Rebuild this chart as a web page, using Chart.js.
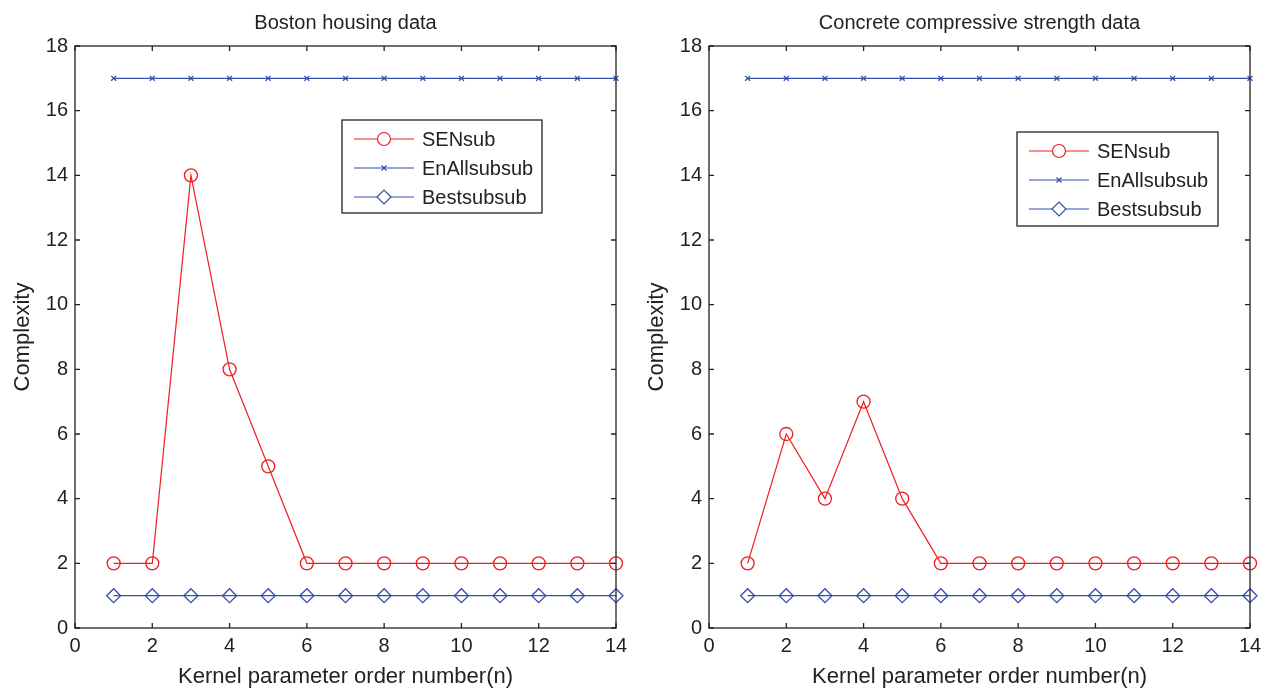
<!DOCTYPE html>
<html>
<head>
<meta charset="utf-8">
<script src="https://cdn.jsdelivr.net/npm/chart.js@4.4.0/dist/chart.umd.min.js"></script>
<style>
  html, body { margin: 0; padding: 0; background: #fff; }
  .wrap { position: absolute; top: 0; width: 631px; height: 692px; }
  #leftWrap { left: 0; }
  #rightWrap { left: 631px; }
</style>
</head>
<body>
<div class="wrap" id="leftWrap"><canvas id="chartLeft" width="631" height="692"></canvas></div>
<div class="wrap" id="rightWrap"><canvas id="chartRight" width="631" height="692"></canvas></div>
<script>
// kernel parameter order numbers
const orderNumbers = [1, 2, 3, 4, 5, 6, 7, 8, 9, 10, 11, 12, 13, 14];

// Boston housing data
const bostonSENsub = [2, 2, 14, 8, 5, 2, 2, 2, 2, 2, 2, 2, 2, 2];
const bostonEnAll = [17, 17, 17, 17, 17, 17, 17, 17, 17, 17, 17, 17, 17, 17];
const bostonBest = [1, 1, 1, 1, 1, 1, 1, 1, 1, 1, 1, 1, 1, 1];

// Concrete compressive strength data
const concreteSENsub = [2, 6, 4, 7, 4, 2, 2, 2, 2, 2, 2, 2, 2, 2];
const concreteEnAll = [17, 17, 17, 17, 17, 17, 17, 17, 17, 17, 17, 17, 17, 17];
const concreteBest = [1, 1, 1, 1, 1, 1, 1, 1, 1, 1, 1, 1, 1, 1];

const seriesNames = ['SENsub', 'EnAllsubsub', 'Bestsubsub'];
const xTicks = [0, 2, 4, 6, 8, 10, 12, 14];
const yTicks = [0, 2, 4, 6, 8, 10, 12, 14, 16, 18];

const RED = 'rgb(240,30,35)';
const BLUE = 'rgb(50,80,170)';
const FONT = '"Liberation Sans", Arial, sans-serif';

function toPoints(vals) {
    return vals.map((v, i) => ({ x: orderNumbers[i], y: v }));
}

function makeDatasets(sen, enAll, best) {
    return [
        { label: seriesNames[0], data: toPoints(sen), borderColor: RED, backgroundColor: 'rgba(0,0,0,0)',
          pointStyle: 'circle', pointRadius: 6.5, pointBorderWidth: 1.3, pointBorderColor: RED },
        { label: seriesNames[1], data: toPoints(enAll), borderColor: BLUE, backgroundColor: 'rgba(0,0,0,0)',
          pointStyle: 'crossRot', pointRadius: 3.5, pointBorderWidth: 1.3, pointBorderColor: BLUE },
        { label: seriesNames[2], data: toPoints(best), borderColor: BLUE, backgroundColor: 'rgba(0,0,0,0)',
          pointStyle: 'rectRot', pointRadius: 7, pointBorderWidth: 1.3, pointBorderColor: BLUE }
    ];
}

// MATLAB-ish frame: box, inner ticks, titles and legend
const framePlugin = {
    id: 'frame',
    afterDatasetsDraw(chart, args, opts) {
        const ctx = chart.ctx;
        const a = chart.chartArea;
        const xs = chart.scales.x, ys = chart.scales.y;
        ctx.save();
        ctx.strokeStyle = '#222';
        ctx.lineWidth = 1.3;
        ctx.strokeRect(a.left, a.top, a.right - a.left, a.bottom - a.top);
        ctx.beginPath();
        xTicks.forEach(t => {
            const px = xs.getPixelForValue(t);
            ctx.moveTo(px, a.bottom); ctx.lineTo(px, a.bottom - 5);
            ctx.moveTo(px, a.top); ctx.lineTo(px, a.top + 5);
        });
        yTicks.forEach(t => {
            const py = ys.getPixelForValue(t);
            ctx.moveTo(a.left, py); ctx.lineTo(a.left + 5, py);
            ctx.moveTo(a.right, py); ctx.lineTo(a.right - 5, py);
        });
        ctx.stroke();

        // titles
        ctx.fillStyle = '#222';
        ctx.textAlign = 'center';
        ctx.textBaseline = 'middle';
        ctx.font = '20px ' + FONT;
        ctx.fillText(opts.title, (a.left + a.right) / 2, 23);
        ctx.font = '22px ' + FONT;
        ctx.fillText('Kernel parameter order number(n)', (a.left + a.right) / 2, 677);
        ctx.save();
        ctx.translate(opts.yTitleX, (a.top + a.bottom) / 2);
        ctx.rotate(-Math.PI / 2);
        ctx.fillText('Complexity', 0, 0);
        ctx.restore();

        // legend
        const lg = opts.legend;
        ctx.fillStyle = '#fff';
        ctx.fillRect(lg.x, lg.y, lg.w, lg.h);
        ctx.strokeStyle = '#222';
        ctx.lineWidth = 1.3;
        ctx.strokeRect(lg.x, lg.y, lg.w, lg.h);
        chart.data.datasets.forEach((ds, i) => {
            const ry = lg.y + 19 + i * 29;
            ctx.strokeStyle = ds.borderColor;
            ctx.fillStyle = 'rgba(0,0,0,0)';
            ctx.lineWidth = 1.2;
            ctx.beginPath();
            ctx.moveTo(lg.x + 12, ry); ctx.lineTo(lg.x + 72, ry);
            ctx.stroke();
            ctx.fillStyle = '#fff';
            Chart.helpers.drawPoint(ctx, {
                pointStyle: ds.pointStyle, radius: ds.pointRadius, borderWidth: ds.pointBorderWidth, rotation: 0
            }, lg.x + 42, ry);
            ctx.fillStyle = '#222';
            ctx.textAlign = 'left';
            ctx.font = '20px ' + FONT;
            ctx.fillText(ds.label, lg.x + 80, ry + 1);
        });
        ctx.restore();
    }
};

function makeChart(id, datasets, yWidth, padRight, title, yTitleX, legend) {
    return new Chart(document.getElementById(id), {
        type: 'line',
        data: { datasets: datasets },
        options: {
            responsive: false,
            animation: false,
            layout: { padding: { top: 46, right: padRight, left: 0, bottom: 0 } },
            elements: { line: { borderWidth: 1.2, tension: 0 } },
            datasets: { line: { clip: false } },
            scales: {
                x: {
                    type: 'linear', min: 0, max: 14,
                    afterBuildTicks: s => { s.ticks = xTicks.map(v => ({ value: v })); },
                    afterFit: s => { s.height = 64; s.paddingLeft = 0; s.paddingRight = 0; },
                    grid: { display: false, drawTicks: false },
                    border: { display: false },
                    ticks: { color: '#222', font: { size: 20, family: FONT }, padding: 6, maxRotation: 0 }
                },
                y: {
                    min: 0, max: 18,
                    afterBuildTicks: s => { s.ticks = yTicks.map(v => ({ value: v })); },
                    afterFit: s => { s.width = yWidth; s.paddingTop = 0; s.paddingBottom = 0; },
                    grid: { display: false, drawTicks: false },
                    border: { display: false },
                    ticks: { color: '#222', font: { size: 20, family: FONT }, padding: 7 }
                }
            },
            plugins: {
                legend: { display: false },
                tooltip: { enabled: false },
                frame: { title: title, yTitleX: yTitleX, legend: legend }
            }
        },
        plugins: [framePlugin]
    });
}

makeChart('chartLeft', makeDatasets(bostonSENsub, bostonEnAll, bostonBest), 75, 15,
    'Boston housing data', 23, { x: 342, y: 120, w: 200, h: 93 });
makeChart('chartRight', makeDatasets(concreteSENsub, concreteEnAll, concreteBest), 78, 12,
    'Concrete compressive strength data', 26, { x: 386, y: 132, w: 201, h: 94 });
</script>
</body>
</html>
